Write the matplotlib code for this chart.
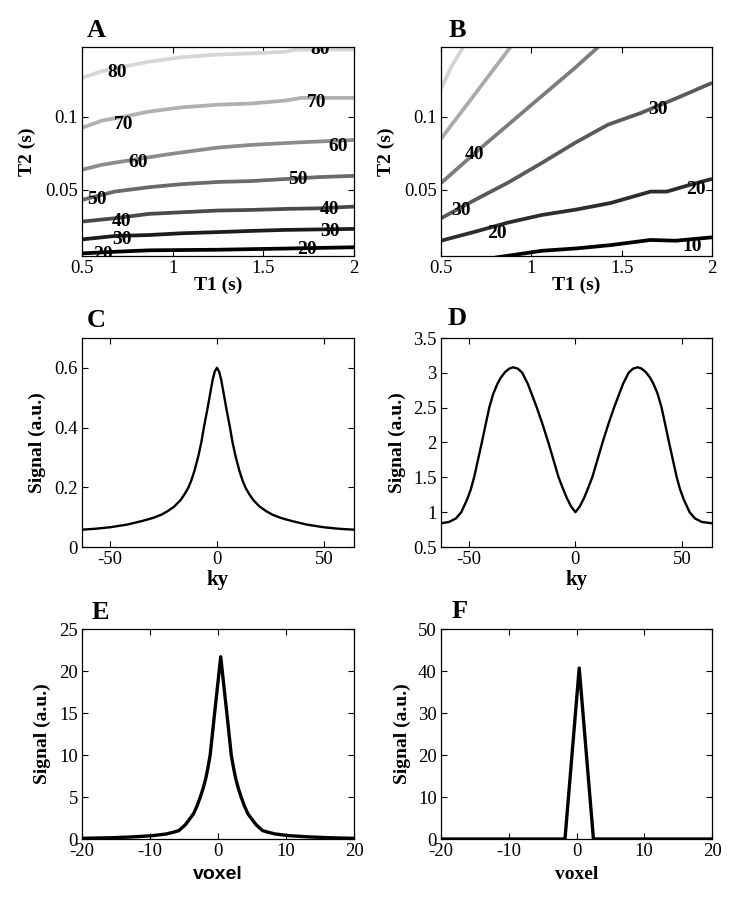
import matplotlib
matplotlib.use("Agg")
import matplotlib.pyplot as plt
from matplotlib.ticker import FuncFormatter

plt.rcParams["font.family"] = ["Liberation Serif", "DejaVu Serif"]
plt.rcParams["axes.unicode_minus"] = False

# ---------------- panel A: contour lines (T1 s, T2 s)
A_LEVELS = [20, 30, 40, 50, 60, 70, 80]
A_COLORS = ["#000000", "#1c1c1c", "#4a4a4a", "#6a6a6a", "#8c8c8c", "#b0b0b0", "#d6d6d6"]
A_T1 = {
    20: [0.5, 0.68, 0.87, 1.25, 1.43, 1.62, 2.0],
    30: [0.5, 0.68, 0.87, 1.05, 1.25, 1.43, 1.62, 2.0],
    40: [0.5, 0.68, 0.87, 1.05, 1.25, 1.43, 1.62, 1.80, 2.0],
    50: [0.5, 0.68, 0.87, 1.05, 1.25, 1.43, 1.62, 1.80, 2.0],
    60: [0.5, 0.61, 0.78, 0.96, 1.10, 1.25, 1.43, 1.70, 2.0],
    70: [0.5, 0.61, 0.74, 0.87, 1.05, 1.25, 1.43, 1.62, 1.71, 2.0],
    80: [0.5, 0.61, 0.74, 0.87, 1.05, 1.25, 1.43, 1.62, 1.67, 2.0],
}
A_T2 = {
    20: [0.0064, 0.0075, 0.0085, 0.0089, 0.0093, 0.0097, 0.0106],
    30: [0.0160, 0.0183, 0.0190, 0.0202, 0.0210, 0.0218, 0.0225, 0.0232],
    40: [0.0282, 0.0305, 0.0335, 0.0346, 0.0358, 0.0362, 0.0369, 0.0373, 0.0385],
    50: [0.0431, 0.0488, 0.0518, 0.0539, 0.0554, 0.0560, 0.0574, 0.0587, 0.0596],
    60: [0.0638, 0.0672, 0.0706, 0.0741, 0.0765, 0.0790, 0.0808, 0.0826, 0.0842],
    70: [0.0925, 0.0975, 0.1004, 0.1037, 0.1066, 0.1084, 0.1092, 0.1112, 0.1131, 0.1131],
    80: [0.1268, 0.1314, 0.1348, 0.1379, 0.1410, 0.1428, 0.1436, 0.1447, 0.1461, 0.1463],
}
A_LABELS = [  # (level, T1, T2)
    (80, 0.691, 0.1303), (80, 1.813, 0.1463),
    (70, 0.728, 0.0947), (70, 1.794, 0.1096),
    (60, 0.810, 0.0690), (60, 1.914, 0.0798),
    (50, 0.581, 0.0431), (50, 1.693, 0.0569),
    (40, 0.718, 0.0282), (40, 1.866, 0.0367),
    (30, 0.718, 0.0156), (30, 1.866, 0.0213),
    (20, 0.617, 0.0053), (20, 1.739, 0.0092),
]

# ---------------- panel B
B_LEVELS = [10, 20, 30, 40, 50, 60]
B_COLORS = ["#000000", "#2d2d2d", "#5a5a5a", "#7d7d7d", "#aaaaaa", "#d4d4d4"]
B_T1 = {
    10: [0.80, 1.06, 1.25, 1.44, 1.66, 1.80, 2.0],
    20: [0.5, 0.69, 0.87, 1.06, 1.25, 1.44, 1.66, 1.75, 1.88, 2.0],
    30: [0.5, 0.688, 0.872, 1.056, 1.24, 1.424, 1.608, 1.829, 2.0],
    40: [0.5, 0.69, 0.87, 1.05, 1.24, 1.37],
    50: [0.5, 0.686, 0.885],
    60: [0.5, 0.559, 0.623],
}
B_T2 = {
    10: [0.0035, 0.0082, 0.0098, 0.0121, 0.0156, 0.0151, 0.0174],
    20: [0.0151, 0.0213, 0.0275, 0.0328, 0.0365, 0.0410, 0.0488, 0.0488, 0.0535, 0.0575],
    30: [0.0305, 0.0431, 0.0550, 0.0683, 0.0821, 0.0947, 0.1028, 0.1142, 0.1234],
    40: [0.0546, 0.0755, 0.0945, 0.1135, 0.1335, 0.148],
    50: [0.0850, 0.1154, 0.148],
    60: [0.1193, 0.1349, 0.148],
}
B_LABELS = [
    (40, 0.688, 0.0741),
    (30, 0.610, 0.0358), (30, 1.698, 0.1050),
    (20, 0.807, 0.0202), (20, 1.912, 0.0505),
    (10, 1.893, 0.0110),
]

# ---------------- panel C: k-space signal
C_KY = [-63, -57, -50, -42, -35, -30, -26, -23, -20, -17, -15, -13.4, -12, -10.5, -8.7, -7.3,
        -6, -4.5, -3, -2, -1, 0, 1, 2, 3, 4.5, 6, 7.3, 8.7, 10.5, 12, 13.4, 15, 17, 20, 23,
        26, 30, 35, 42, 50, 57, 64]
C_SIG = [0.058, 0.061, 0.066, 0.075, 0.087, 0.097, 0.108, 0.12, 0.135, 0.157, 0.178, 0.198,
         0.222, 0.255, 0.304, 0.35, 0.404, 0.46, 0.52, 0.56, 0.588, 0.60, 0.588, 0.56, 0.52,
         0.46, 0.404, 0.35, 0.304, 0.255, 0.222, 0.198, 0.178, 0.157, 0.135, 0.12, 0.108,
         0.097, 0.087, 0.075, 0.066, 0.061, 0.058]

# ---------------- panel D
D_KY = [-63, -59.2, -56, -53.5, -50.8, -49, -47.4, -45.6, -43.8, -42, -40.3, -38.5, -36.6,
        -35, -33, -31, -29.2, -27, -24.9, -22.3, -20.3, -18.2, -15.5, -12.8, -10, -8, -6,
        -4, -2, 0, 2, 4, 6, 8, 10, 12.8, 15.5, 18.2, 20.3, 22.3, 24.9, 27, 29.2, 31, 33,
        35, 36.6, 38.5, 40.3, 42, 43.8, 45.6, 47.4, 49, 50.8, 53.5, 56, 59.2, 64]
D_SIG = [0.84, 0.86, 0.91, 1.0, 1.18, 1.33, 1.51, 1.76, 2.01, 2.27, 2.51, 2.70, 2.84, 2.93,
         3.01, 3.06, 3.08, 3.06, 3.00, 2.84, 2.68, 2.51, 2.27, 2.01, 1.72, 1.51, 1.35, 1.20,
         1.08, 1.0, 1.08, 1.20, 1.35, 1.51, 1.72, 2.01, 2.27, 2.51, 2.68, 2.84, 3.00, 3.06,
         3.08, 3.06, 3.01, 2.93, 2.84, 2.70, 2.51, 2.27, 2.01, 1.76, 1.51, 1.33, 1.18, 1.0,
         0.91, 0.86, 0.84]

# ---------------- panel E: point spread
E_VOX = [-20.0, -15.6, -12.6, -9.6, -7.6, -6.6, -5.75, -4.8, -4.05, -3.6, -3.1, -2.6, -2.2,
         -1.8, -1.5, -1.15, -0.85, -0.55, -0.2, 0.1, 0.4, 0.7, 1.0, 1.35, 1.65, 1.95, 2.3,
         2.6, 3.0, 3.4, 3.9, 4.4, 4.85, 5.6, 6.55, 7.4, 8.4, 10.4, 13.4, 16.4, 20.0]
E_SIG = [0.08, 0.15, 0.25, 0.4, 0.6, 0.8, 1.0, 1.7, 2.5, 3.0, 3.9, 5.0, 6.0, 7.2, 8.4, 10,
         12.3, 14.6, 17.2, 19.45, 21.7, 19.45, 17.2, 14.6, 12.3, 10, 8.4, 7.2, 6.0, 5.0, 3.9,
         3.0, 2.5, 1.7, 1.0, 0.8, 0.6, 0.4, 0.25, 0.15, 0.08]

# ---------------- panel F
F_VOX = [-20, -1.7, 0.4, 2.5, 20]
F_SIG = [0, 0, 40.7, 0, 0]

W, H = 750, 905
TICK_FS = 13.5
LABEL_FS = 14
fmt = FuncFormatter(lambda v, p: f"{v:g}")


def axes_at(fig, left, top, right, bottom):
    return fig.add_axes([left / W, 1 - bottom / H, (right - left) / W, (bottom - top) / H])


def style(ax):
    ax.tick_params(direction="in", top=True, right=True, length=4, width=0.8,
                   labelsize=TICK_FS, pad=3)
    for s in ax.spines.values():
        s.set_linewidth(0.9)
    ax.xaxis.set_major_formatter(fmt)
    ax.yaxis.set_major_formatter(fmt)


def contour_panel(ax, levels, colors, t1, t2, labels):
    for lev, col in zip(levels, colors):
        ax.plot(t1[lev], t2[lev], color=col, lw=2.7, solid_capstyle="butt")
    for lev, x, y in labels:
        ax.text(x, y, str(lev), fontsize=14, fontweight="bold", ha="center", va="center",
                clip_on=True)
    ax.set_xlim(0.5, 2.0)
    ax.set_ylim(0.0046, 0.148)
    ax.set_xticks([0.5, 1, 1.5, 2])
    ax.set_yticks([0.05, 0.1])
    style(ax)
    ax.set_xlabel("T1 (s)", fontsize=LABEL_FS, fontweight="bold", va="center")
    ax.set_ylabel("T2 (s)", fontsize=LABEL_FS, fontweight="bold", va="center")
    ax.xaxis.set_label_coords(0.5, -0.139)
    ax.yaxis.set_label_coords(-0.2, 0.5)


fig = plt.figure(figsize=(W / 100, H / 100), dpi=100)

axA = axes_at(fig, 82, 47, 354, 256)
contour_panel(axA, A_LEVELS, A_COLORS, A_T1, A_T2, A_LABELS)
axB = axes_at(fig, 441, 47, 712, 256)
contour_panel(axB, B_LEVELS, B_COLORS, B_T1, B_T2, B_LABELS)

axC = axes_at(fig, 82, 338, 354, 547)
axC.plot(C_KY, C_SIG, color="black", lw=1.7)
axC.set_xlim(-63, 64)
axC.set_ylim(0, 0.7)
axC.set_xticks([-50, 0, 50])
axC.set_yticks([0, 0.2, 0.4, 0.6])

axD = axes_at(fig, 441, 338, 712, 547)
axD.plot(D_KY, D_SIG, color="black", lw=1.7)
axD.set_xlim(-63, 64)
axD.set_ylim(0.5, 3.5)
axD.set_xticks([-50, 0, 50])
axD.set_yticks([0.5, 1, 1.5, 2, 2.5, 3, 3.5])

for ax, ylx in ((axC, -0.165), (axD, -0.162)):
    style(ax)
    ax.set_xlabel("ky", fontsize=LABEL_FS + 1, fontweight="bold", va="center")
    ax.set_ylabel("Signal (a.u.)", fontsize=LABEL_FS, fontweight="bold", va="center")
    ax.xaxis.set_label_coords(0.5, -0.158)
    ax.yaxis.set_label_coords(ylx, 0.5)

axE = axes_at(fig, 82, 629, 354, 839)
axE.plot(E_VOX, E_SIG, color="black", lw=2.4)
axE.set_ylim(0, 25)
axE.set_yticks([0, 5, 10, 15, 20, 25])

axF = axes_at(fig, 441, 629, 712, 839)
axF.plot(F_VOX, F_SIG, color="black", lw=2.4)
axF.set_ylim(0, 50)
axF.set_yticks([0, 10, 20, 30, 40, 50])

for ax, fam in ((axE, ["Liberation Sans", "DejaVu Sans"]), (axF, ["Liberation Serif", "DejaVu Serif"])):
    ax.set_xlim(-20, 20)
    ax.set_xticks([-20, -10, 0, 10, 20])
    style(ax)
    ax.set_xlabel("voxel", fontsize=LABEL_FS, fontweight="bold", family=fam, va="center")
    ax.set_ylabel("Signal (a.u.)", fontsize=LABEL_FS, fontweight="bold", va="center")
    ax.xaxis.set_label_coords(0.5, -0.171)
    ax.yaxis.set_label_coords(-0.144, 0.5)

for letter, x, y in (("A", 87, 37), ("B", 449, 37), ("C", 87, 327),
                     ("D", 448, 325), ("E", 92, 619), ("F", 452, 618)):
    fig.text(x / W, 1 - y / H, letter, fontsize=19, fontweight="bold",
             ha="left", va="baseline")

fig.savefig("out.png", dpi=100, facecolor="white")
